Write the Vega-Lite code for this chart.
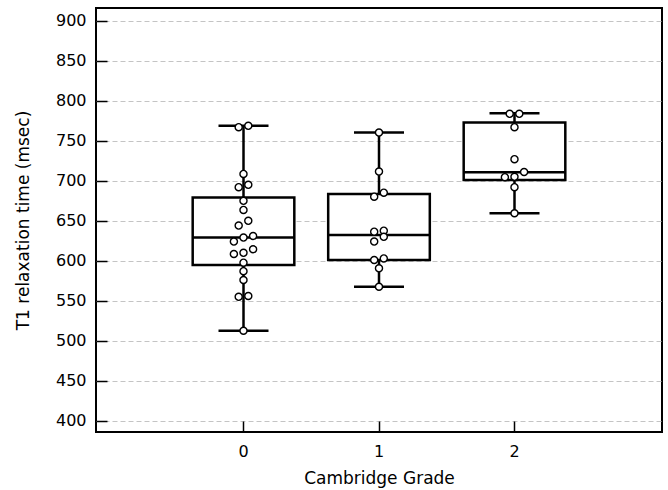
{
  "$schema": "https://vega.github.io/schema/vega-lite/v6.json",
  "width": 566,
  "height": 424,
  "autosize": {"type": "none"},
  "padding": {"left": 96, "top": 8, "right": 6, "bottom": 58},
  "background": "white",
  "config": {
    "view": {"stroke": "black", "strokeWidth": 2},
    "font": "DejaVu Sans",
    "axis": {
      "labelFont": "DejaVu Sans",
      "titleFont": "DejaVu Sans",
      "labelFontSize": 16,
      "titleFontSize": 17,
      "labelColor": "black",
      "titleColor": "black",
      "titleFontWeight": "normal",
      "domain": false,
      "tickColor": "black",
      "tickWidth": 1.5
    }
  },
  "resolve": {"scale": {"xOffset": "independent"}},
  "datasets": {
    "summary": [
      {"grade": 0, "min": 512.6, "q1": 594.8, "median": 629, "q3": 679, "max": 768.7},
      {"grade": 1, "min": 567.6, "q1": 601, "median": 632.3, "q3": 683.6, "max": 760.3},
      {"grade": 2, "min": 659.4, "q1": 701, "median": 710.7, "q3": 772.8, "max": 784.5}
    ],
    "obs": [
      {"grade": 0, "t1": 767, "side": -1},
      {"grade": 0, "t1": 768.7, "side": 1},
      {"grade": 0, "t1": 708.6, "side": 0},
      {"grade": 0, "t1": 692, "side": -1},
      {"grade": 0, "t1": 695, "side": 1},
      {"grade": 0, "t1": 675, "side": 0},
      {"grade": 0, "t1": 663.6, "side": 0},
      {"grade": 0, "t1": 644, "side": -1},
      {"grade": 0, "t1": 650, "side": 1},
      {"grade": 0, "t1": 624, "side": -2},
      {"grade": 0, "t1": 629, "side": 0},
      {"grade": 0, "t1": 631, "side": 2},
      {"grade": 0, "t1": 608.5, "side": -2},
      {"grade": 0, "t1": 610, "side": 0},
      {"grade": 0, "t1": 614.4, "side": 2},
      {"grade": 0, "t1": 597.7, "side": 0},
      {"grade": 0, "t1": 587, "side": 0},
      {"grade": 0, "t1": 576, "side": 0},
      {"grade": 0, "t1": 555, "side": -1},
      {"grade": 0, "t1": 556, "side": 1},
      {"grade": 0, "t1": 512.6, "side": 0},
      {"grade": 1, "t1": 760.3, "side": 0},
      {"grade": 1, "t1": 711.5, "side": 0},
      {"grade": 1, "t1": 680.2, "side": -1},
      {"grade": 1, "t1": 685.2, "side": 1},
      {"grade": 1, "t1": 636.4, "side": -1},
      {"grade": 1, "t1": 637.7, "side": 1},
      {"grade": 1, "t1": 624, "side": -1},
      {"grade": 1, "t1": 630, "side": 1},
      {"grade": 1, "t1": 601, "side": -1},
      {"grade": 1, "t1": 603, "side": 1},
      {"grade": 1, "t1": 590.6, "side": 0},
      {"grade": 1, "t1": 567.6, "side": 0},
      {"grade": 2, "t1": 783.7, "side": -1},
      {"grade": 2, "t1": 783.7, "side": 1},
      {"grade": 2, "t1": 767, "side": 0},
      {"grade": 2, "t1": 727, "side": 0},
      {"grade": 2, "t1": 711, "side": 2},
      {"grade": 2, "t1": 704.5, "side": -2},
      {"grade": 2, "t1": 705, "side": 0},
      {"grade": 2, "t1": 692, "side": 0},
      {"grade": 2, "t1": 659.4, "side": 0}
    ]
  },
  "encoding": {
    "x": {
      "field": "grade",
      "type": "ordinal",
      "title": "Cambridge Grade",
      "scale": {"type": "band", "paddingInner": 0.25, "paddingOuter": 0.7136},
      "axis": {
        "labelAngle": 0,
        "grid": false,
        "tickSize": -11,
        "labelPadding": 22,
        "titleY": 46,
        "titleBaseline": "middle"
      }
    }
  },
  "layer": [
    {
      "data": {"name": "summary"},
      "mark": {"type": "rule", "color": "black", "strokeWidth": 2.5},
      "encoding": {
        "y": {
          "field": "min",
          "type": "quantitative",
          "title": "T1 relaxation time (msec)",
          "scale": {"domain": [386, 916], "nice": false, "zero": false},
          "axis": {
            "values": [400, 425, 450, 475, 500, 525, 550, 575, 600, 625, 650, 675, 700, 725, 750, 775, 800, 825, 850, 875, 900],
            "labelExpr": "datum.value % 50 === 0 ? datum.label : ''",
            "tickSize": {"condition": {"test": "datum.value % 50 !== 0", "value": -5}, "value": -11},
            "gridOpacity": {"condition": {"test": "datum.value % 50 !== 0", "value": 0}, "value": 1},
            "grid": true,
            "gridColor": "#c4c4c4",
            "gridDash": [5, 3],
            "gridWidth": 1,
            "labelPadding": 21,
            "titleX": -72.5,
            "titleY": 212,
            "titleBaseline": "middle"
          }
        },
        "y2": {"field": "max"}
      }
    },
    {
      "data": {"name": "summary"},
      "mark": {"type": "bar", "width": {"band": 1}, "fill": "white", "stroke": "black", "strokeWidth": 2.5, "opacity": 1},
      "encoding": {
        "y": {"field": "q1", "type": "quantitative", "title": "T1 relaxation time (msec)"},
        "y2": {"field": "q3"}
      }
    },
    {
      "data": {"name": "summary"},
      "mark": {"type": "tick", "orient": "horizontal", "size": 101, "thickness": 2.5, "color": "black", "opacity": 1},
      "encoding": {
        "y": {"field": "median", "type": "quantitative", "title": "T1 relaxation time (msec)"}
      }
    },
    {
      "data": {"name": "summary"},
      "mark": {"type": "tick", "orient": "horizontal", "size": 50, "thickness": 2.5, "color": "black", "opacity": 1},
      "encoding": {
        "y": {"field": "min", "type": "quantitative", "title": "T1 relaxation time (msec)"}
      }
    },
    {
      "data": {"name": "summary"},
      "mark": {"type": "tick", "orient": "horizontal", "size": 50, "thickness": 2.5, "color": "black", "opacity": 1},
      "encoding": {
        "y": {"field": "max", "type": "quantitative", "title": "T1 relaxation time (msec)"}
      }
    },
    {
      "data": {"name": "obs"},
      "mark": {"type": "point", "shape": "circle", "filled": false, "fill": "white", "fillOpacity": 1, "stroke": "black", "strokeWidth": 1.4, "size": 50, "opacity": 1},
      "encoding": {
        "y": {"field": "t1", "type": "quantitative", "title": "T1 relaxation time (msec)"},
        "xOffset": {"field": "side", "type": "quantitative", "scale": {"domain": [-2, 2], "range": [41.2, 60.4]}}
      }
    }
  ]
}
